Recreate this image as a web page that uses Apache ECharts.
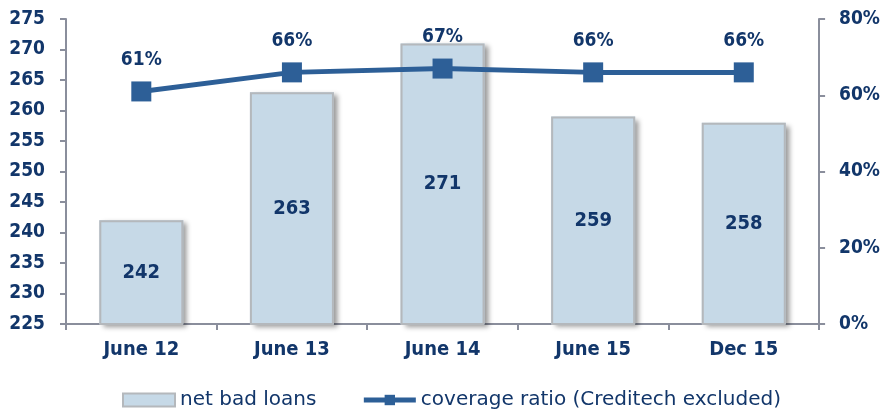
<!DOCTYPE html>
<html>
<head>
<meta charset="utf-8">
<script src="https://cdn.jsdelivr.net/npm/echarts@6/dist/echarts.min.js"></script>
<style>
  html, body { margin: 0; padding: 0; background: #ffffff; }
  #chart { width: 883px; height: 411px; }
</style>
</head>
<body>
<div id="chart"></div>
<script>
// Periods on the category axis
const categories = ['June 12', 'June 13', 'June 14', 'June 15', 'Dec 15'];
// Net bad loans (left axis)
const netBadLoans = [242, 263, 271, 259, 258];
// Coverage ratio in percent (right axis)
const coverageRatio = [61, 66, 67, 66, 66];

const navy = '#12366a';
const lineBlue = '#2d5f97';
const axisGray = '#8a8e9c';
const boldFont = '"DejaVu Sans Condensed", "DejaVu Sans", Verdana, sans-serif';
const legendFont = '"DejaVu Sans", Verdana, sans-serif';

const chart = echarts.init(document.getElementById('chart'));
chart.setOption({
  animation: false,
  backgroundColor: '#ffffff',
  grid: { left: 66, right: 60, top: 19, bottom: 87 },
  legend: {
    top: 385,
    left: 117,
    itemGap: 45,
    itemWidth: 52,
    itemHeight: 13,
    textStyle: { color: navy, fontSize: 20, fontFamily: legendFont, fontWeight: 'normal' },
    data: [
      { name: 'net bad loans', icon: 'rect' },
      { name: 'coverage ratio (Creditech excluded)', lineStyle: { width: 5, color: lineBlue } }
    ]
  },
  xAxis: {
    type: 'category',
    data: categories,
    axisLine: { lineStyle: { color: axisGray, width: 2 } },
    axisTick: { show: true, length: 6, lineStyle: { color: axisGray, width: 2 } },
    axisLabel: { color: navy, fontSize: 20, fontWeight: 'bold', fontFamily: boldFont, margin: 16 }
  },
  yAxis: [
    {
      type: 'value',
      min: 225,
      max: 275,
      interval: 5,
      axisLine: { show: true, lineStyle: { color: axisGray, width: 2 } },
      axisTick: { show: true, length: 6, lineStyle: { color: axisGray, width: 2 } },
      splitLine: { show: false },
      axisLabel: { color: navy, fontSize: 19, fontWeight: 'bold', fontFamily: boldFont, margin: 21 }
    },
    {
      type: 'value',
      min: 0,
      max: 80,
      interval: 20,
      position: 'right',
      axisLine: { show: true, lineStyle: { color: axisGray, width: 2 } },
      axisTick: { show: true, length: 6, lineStyle: { color: axisGray, width: 2 } },
      splitLine: { show: false },
      axisLabel: {
        color: navy, fontSize: 19, fontWeight: 'bold', fontFamily: boldFont, margin: 20,
        formatter: '{value}%'
      }
    }
  ],
  series: [
    {
      // drop shadow underneath the bars
      name: 'bar shadow',
      type: 'bar',
      yAxisIndex: 0,
      data: netBadLoans,
      barWidth: 84,
      barGap: '-100%',
      silent: true,
      itemStyle: {
        color: '#c6d9e7',
        shadowColor: 'rgba(0,0,0,0.4)',
        shadowBlur: 5,
        shadowOffsetX: 4,
        shadowOffsetY: 3
      },
      label: { show: false }
    },
    {
      name: 'net bad loans',
      type: 'bar',
      yAxisIndex: 0,
      data: netBadLoans,
      barWidth: 84,
      barGap: '-100%',
      itemStyle: {
        color: '#c6d9e7',
        borderColor: '#b4b8bc',
        borderWidth: 2
      },
      label: {
        show: true,
        position: 'inside',
        color: navy,
        fontSize: 20,
        fontWeight: 'bold',
        fontFamily: boldFont
      }
    },
    {
      name: 'coverage ratio (Creditech excluded)',
      type: 'line',
      yAxisIndex: 1,
      data: coverageRatio,
      symbol: 'rect',
      symbolSize: 20,
      lineStyle: { color: lineBlue, width: 5 },
      itemStyle: { color: lineBlue },
      label: {
        show: true,
        position: 'top',
        distance: 12,
        color: navy,
        fontSize: 19,
        fontWeight: 'bold',
        fontFamily: boldFont,
        formatter: '{c}%'
      }
    }
  ]
});
</script>
</body>
</html>
